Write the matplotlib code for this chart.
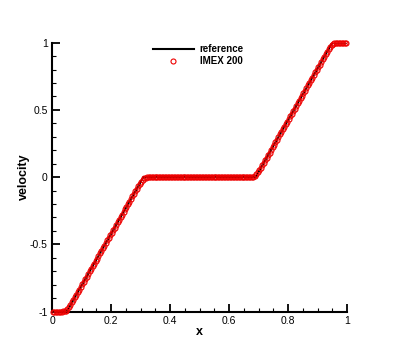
import numpy as np
import matplotlib
matplotlib.use("Agg")
import matplotlib.pyplot as plt
from matplotlib.ticker import MultipleLocator

plt.rcParams['font.family'] = ['Liberation Sans', 'DejaVu Sans']

# Reference solution (piecewise linear breakpoints)
ref_x = [0.0, 0.05, 0.31, 0.69, 0.95, 1.0]
ref_v = [-1.0, -1.0, 0.0, 0.0, 1.0, 1.0]

# IMEX 200 cell-centre values
imex_x = np.linspace(0.0025, 0.9975, 200)
imex_v = [
    -1, -1, -1, -1, -1, -1, -1, -0.999, -0.997, -0.993,
    -0.983, -0.968, -0.951, -0.933, -0.913, -0.894, -0.875, -0.856, -0.837, -0.817,
    -0.798, -0.779, -0.760, -0.740, -0.721, -0.702, -0.683, -0.663, -0.644, -0.625,
    -0.606, -0.587, -0.567, -0.548, -0.529, -0.510, -0.490, -0.471, -0.452, -0.433,
    -0.413, -0.394, -0.375, -0.356, -0.337, -0.317, -0.298, -0.279, -0.260, -0.240,
    -0.221, -0.202, -0.183, -0.163, -0.144, -0.125, -0.106, -0.087, -0.069, -0.052,
    -0.035, -0.021, -0.010, -0.004, -0.001, 0, 0, 0, 0, 0,
    0, 0, 0, 0, 0, 0, 0, 0, 0, 0,
    0, 0, 0, 0, 0, 0, 0, 0, 0, 0,
    0, 0, 0, 0, 0, 0, 0, 0, 0, 0,
    0, 0, 0, 0, 0, 0, 0, 0, 0, 0,
    0, 0, 0, 0, 0, 0, 0, 0, 0, 0,
    0, 0, 0, 0, 0, 0, 0, 0, 0, 0,
    0, 0, 0, 0, 0, 0.001, 0.004, 0.010, 0.021, 0.035,
    0.052, 0.069, 0.087, 0.106, 0.125, 0.144, 0.163, 0.183, 0.202, 0.221,
    0.240, 0.260, 0.279, 0.298, 0.317, 0.337, 0.356, 0.375, 0.394, 0.413,
    0.433, 0.452, 0.471, 0.490, 0.510, 0.529, 0.548, 0.567, 0.587, 0.606,
    0.625, 0.644, 0.663, 0.683, 0.702, 0.721, 0.740, 0.760, 0.779, 0.798,
    0.817, 0.837, 0.856, 0.875, 0.894, 0.913, 0.933, 0.951, 0.968, 0.983,
    0.993, 0.997, 0.999, 1, 1, 1, 1, 1, 1, 1,
]

xticks = [0, 0.2, 0.4, 0.6, 0.8, 1]
xticklabels = ['0', '0.2', '0.4', '0.6', '0.8', '1']
yticks = [-1, -0.5, 0, 0.5, 1]
yticklabels = ['-1', '-0.5', '0', '0.5', '1']

fig = plt.figure(figsize=(3.95, 3.51), dpi=100)
ax = fig.add_axes([52/395, 1-311.5/351, (347-52)/395, (311.5-42.7)/351])

ax.plot(ref_x, ref_v, color='black', lw=1.5, label='reference', zorder=2)
ax.plot(imex_x, imex_v, linestyle='none', marker='o', markersize=3.6,
        markerfacecolor='none', markeredgecolor='#ee0000', markeredgewidth=0.8,
        label='IMEX 200', zorder=3, clip_on=False)

ax.set_xlim(0, 1)
ax.set_ylim(-1, 1)
ax.set_xticks(xticks)
ax.set_xticklabels(xticklabels)
ax.set_yticks(yticks)
ax.set_yticklabels(yticklabels)
ax.xaxis.set_minor_locator(MultipleLocator(0.05))
ax.yaxis.set_minor_locator(MultipleLocator(0.1))
ax.tick_params(which='major', direction='in', length=6, width=1.3, labelsize=7.5, pad=3)
ax.tick_params(which='minor', direction='in', length=3, width=0.8)
ax.spines['top'].set_visible(False)
ax.spines['right'].set_visible(False)
for s in ['left', 'bottom']:
    ax.spines[s].set_linewidth(1.5)

ax.set_xlabel('x', fontsize=9, fontweight='bold', labelpad=0.5)
ax.set_ylabel('velocity', fontsize=9, fontweight='bold', labelpad=0)

leg = ax.legend(loc='upper left', bbox_to_anchor=(153/395, 1-44/351),
                bbox_transform=fig.transFigure, frameon=False,
                prop={'weight': 'bold', 'size': 7}, handlelength=4.2,
                handletextpad=0.6, labelspacing=0.25, borderpad=0, borderaxespad=0)

fig.savefig('out.png', dpi=100)
